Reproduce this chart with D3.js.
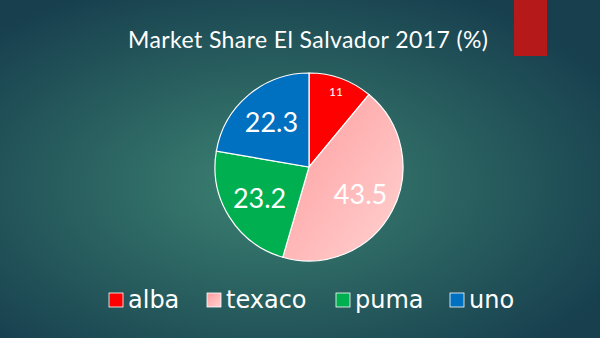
<!DOCTYPE html>
<html>
<head>
<meta charset="utf-8">
<script src="https://cdn.jsdelivr.net/npm/d3@7"></script>
<style>
  html, body { margin: 0; padding: 0; background: #1a4452; }
  svg { display: block; font-family: "Lato", "Open Sans", sans-serif; }
</style>
</head>
<body>
<svg id="chart" width="600" height="338"></svg>
<script>
// chart data
const categories = ["alba", "texaco", "puma", "uno"];
const shares = [11, 43.5, 23.2, 22.3];
const sliceColors = ["#ff0000", "url(#texacoFill)", "#00b050", "#0070c0"];
const title = "Market Share El Salvador 2017 (%)";

const svg = d3.select("#chart");
const W = 600, H = 338;

const defs = svg.append("defs");
const bg = defs.append("radialGradient").attr("id", "bgGrad")
    .attr("cx", "45%").attr("cy", "55%").attr("r", "65%");
bg.append("stop").attr("offset", "0%").attr("stop-color", "#3c8272");
bg.append("stop").attr("offset", "100%").attr("stop-color", "#173f4e");

const tx = defs.append("linearGradient").attr("id", "texacoFill")
    .attr("x1", "0%").attr("y1", "0%").attr("x2", "100%").attr("y2", "100%");
tx.append("stop").attr("offset", "0%").attr("stop-color", "#ff9c9c");
tx.append("stop").attr("offset", "100%").attr("stop-color", "#ffd2d2");

svg.append("rect").attr("width", W).attr("height", H).attr("fill", "url(#bgGrad)");

// red tab top right
svg.append("rect").attr("x", 514).attr("y", 0).attr("width", 33).attr("height", 56)
    .attr("fill", "#b5191a");

// title
svg.append("text")
    .attr("x", 308).attr("y", 48)
    .attr("text-anchor", "middle")
    .attr("fill", "#ffffff")
    .attr("font-size", 23)
    .attr("textLength", 360)
    .text(title);

// pie
const cx = 309, cy = 167, r = 94;
const pie = d3.pie().sort(null).value(d => d)(shares);
const arc = d3.arc().innerRadius(0).outerRadius(r);

const g = svg.append("g").attr("transform", `translate(${cx},${cy})`);
g.selectAll("path.slice")
  .data(pie)
  .join("path")
    .attr("class", "slice")
    .attr("d", arc)
    .attr("fill", (d, i) => sliceColors[i])
    .attr("stroke", "#ffffff")
    .attr("stroke-width", 1.2);

const labelArc = d3.arc().innerRadius(r * 0.62).outerRadius(r * 0.62);
const labelArcSmall = d3.arc().innerRadius(r * 0.85).outerRadius(r * 0.85);
g.selectAll("text.val")
  .data(pie)
  .join("text")
    .attr("class", "val")
    .attr("transform", d => {
      const c = (d.data < 15 ? labelArcSmall : labelArc).centroid(d);
      return `translate(${c[0]},${c[1]})`;
    })
    .attr("text-anchor", "middle")
    .attr("dy", "0.36em")
    .attr("fill", "#ffffff")
    .attr("font-size", d => d.data < 15 ? 12 : 27)
    .text(d => d.data);

// legend
const legendX = [109, 207, 336, 450];
const legend = svg.append("g");
const items = legend.selectAll("g.item")
  .data(categories)
  .join("g")
    .attr("class", "item")
    .attr("transform", (d, i) => `translate(${legendX[i]},293)`);
items.append("rect")
    .attr("width", 14).attr("height", 14)
    .attr("fill", (d, i) => sliceColors[i])
    .attr("stroke", "#ffffff").attr("stroke-width", 0.8);
items.append("text")
    .attr("x", 19)
    .attr("y", 15)
    .attr("fill", "#ffffff")
    .attr("font-family", "'DejaVu Sans', sans-serif")
    .attr("font-size", 24)
    .text(d => d);
</script>
</body>
</html>
